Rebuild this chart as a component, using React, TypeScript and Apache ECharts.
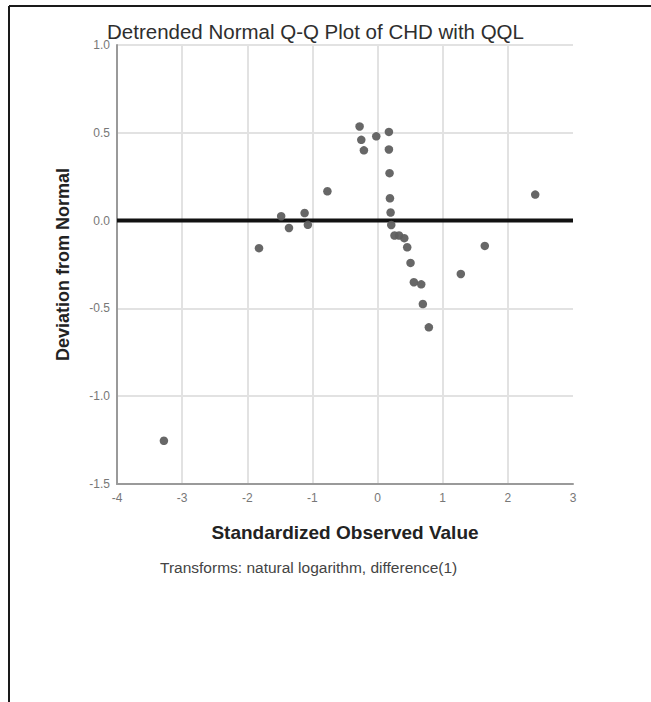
import React, { useEffect, useRef } from "react";
import * as echarts from "echarts";

const titleText = "Detrended Normal Q-Q Plot of CHD with QQL";
const xAxisName = "Standardized Observed Value";
const yAxisName = "Deviation from Normal";
const footnote = "Transforms: natural logarithm, difference(1)";

const observedValues = [
  -3.28, -1.82, -1.48, -1.36, -1.12, -1.07, -0.77, -0.276, -0.25, -0.21, -0.02,
  0.174, 0.174, 0.184, 0.19, 0.2, 0.21, 0.26, 0.33, 0.41, 0.455, 0.506, 0.557,
  0.67, 0.695, 0.787, 1.278, 1.646, 2.42,
];
const deviations = [
  -1.254, -0.157, 0.025, -0.042, 0.043, -0.024, 0.167, 0.536, 0.46, 0.4, 0.48,
  0.505, 0.405, 0.27, 0.127, 0.046, -0.025, -0.085, -0.085, -0.1, -0.152, -0.241,
  -0.351, -0.363, -0.475, -0.608, -0.304, -0.144, 0.148,
];
const referenceLine = [
  [-4, 0],
  [3, 0],
];

const FONT = "'Liberation Sans', Arial, Helvetica, sans-serif";

export default function App() {
  const ref = useRef<HTMLDivElement>(null);
  useEffect(() => {
    if (!ref.current) return;
    const chart = echarts.init(ref.current, null, { renderer: "svg" });
    const points = observedValues.map((x, i) => [x, deviations[i]]);
    chart.setOption({
      animation: false,
      backgroundColor: "#ffffff",
      textStyle: { fontFamily: FONT },
      title: {
        text: titleText,
        left: 102,
        top: 16,
        textStyle: { fontFamily: FONT, fontSize: 20.5, fontWeight: "normal", color: "#2e2e2e" },
      },
      grid: { left: 117, right: 78, top: 45, bottom: 218, containLabel: false },
      xAxis: {
        type: "value",
        min: -4,
        max: 3,
        interval: 1,
        name: xAxisName,
        nameLocation: "middle",
        nameGap: 39,
        nameTextStyle: { fontFamily: FONT, fontSize: 19, fontWeight: "bold", color: "#222" },
        axisLine: { show: true, onZero: false, lineStyle: { color: "#9a9a9a", width: 2 } },
        axisTick: { show: false },
        axisLabel: { color: "#777", fontSize: 12, margin: 8, fontFamily: FONT },
        splitLine: { show: true, showMaxLine: false, lineStyle: { color: "#e2e2e2", width: 2 } },
      },
      yAxis: {
        type: "value",
        min: -1.5,
        max: 1.0,
        interval: 0.5,
        name: yAxisName,
        nameLocation: "middle",
        nameGap: 45,
        nameRotate: 90,
        nameTextStyle: { fontFamily: FONT, fontSize: 18, fontWeight: "bold", color: "#222" },
        axisLine: { show: true, onZero: false, lineStyle: { color: "#9a9a9a", width: 2 } },
        axisTick: { show: false },
        axisLabel: {
          color: "#777",
          fontSize: 12,
          margin: 7,
          fontFamily: FONT,
          formatter: (v: number) => v.toFixed(1),
        },
        splitLine: { show: true, lineStyle: { color: "#e2e2e2", width: 2 } },
      },
      graphic: [
        {
          type: "line",
          shape: { x1: 9, y1: 6, x2: 651, y2: 6 },
          style: { stroke: "#1a1a1a", lineWidth: 2 },
        },
        {
          type: "line",
          shape: { x1: 9, y1: 6, x2: 9, y2: 702 },
          style: { stroke: "#1a1a1a", lineWidth: 2 },
        },
        {
          type: "text",
          left: 160,
          top: 559,
          style: { text: footnote, fontFamily: FONT, fontSize: 15.5, fill: "#444" },
        },
      ],
      series: [
        {
          type: "line",
          data: referenceLine,
          symbol: "none",
          lineStyle: { color: "#111", width: 4 },
          z: 2,
          silent: true,
        },
        {
          type: "scatter",
          data: points,
          symbolSize: 8.5,
          itemStyle: { color: "#5f5f5f", opacity: 0.95 },
          z: 3,
        },
      ],
    });
    return () => chart.dispose();
  }, []);
  return (
    <div
      ref={ref}
      style={{ position: "fixed", left: 0, top: 0, width: 651, height: 702, background: "#fff" }}
    />
  );
}
